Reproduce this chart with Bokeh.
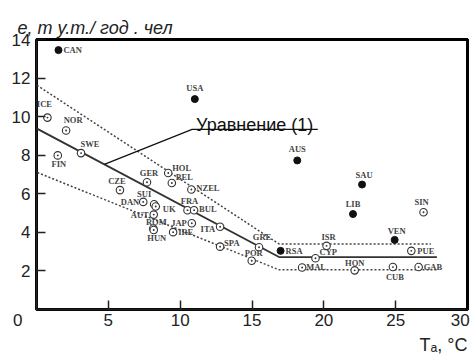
from bokeh.plotting import figure
from bokeh.models import Range1d, Label, FixedTicker, ColumnDataSource, Title, LinearAxis, Span
from bokeh.embed import file_html
from bokeh.resources import INLINE
from bokeh.core.properties import value
import numpy as np

# ---------------- data ----------------
open_names = ["ICE", "NOR", "SWE", "FIN", "CZE", "GER", "HOL", "BEL", "NZEL", "DAN",
              "SUI", "UK", "AUT", "ROM", "HUN", "JAP", "IRE", "FRA", "BUL", "ITA",
              "SPA", "GRE", "POR", "ISR", "CYP", "MAL", "HON", "CUB", "GAB", "PUE", "SIN"]
open_t = [0.76, 2.06, 3.10, 1.48, 5.81, 7.69, 9.17, 9.42, 10.78, 7.43,
          8.19, 8.30, 8.16, 8.13, 8.16, 10.81, 9.51, 10.51, 10.97, 12.78,
          12.78, 15.49, 14.98, 20.19, 19.42, 18.49, 22.15, 24.81, 26.60, 26.09, 26.94]
open_e = [9.95, 9.28, 8.11, 7.99, 6.19, 6.60, 7.08, 6.56, 6.22, 5.58,
          5.46, 5.34, 4.92, 4.20, 4.12, 4.47, 4.01, 5.15, 5.15, 4.29,
          3.26, 3.23, 2.53, 3.30, 2.66, 2.18, 2.03, 2.20, 2.20, 3.04, 5.04]

solid_names = ["CAN", "USA", "AUS", "SAU", "LIB", "VEN", "RSA"]
solid_t = [1.53, 11.02, 18.15, 22.66, 22.03, 24.93, 16.99]
solid_e = [13.45, 10.91, 7.73, 6.48, 4.95, 3.61, 3.04]

# equation (1) and its band
eq_t = [-0.2, 16.88, 27.87]
eq_e = [9.47, 2.72, 2.72]
upper_t = [-0.2, 16.88, 27.45]
upper_e = [11.74, 3.40, 3.40]
lower_t = [-0.2, 16.88, 27.87]
lower_e = [7.18, 2.06, 2.06]

x_ticks = [0, 5, 10, 15, 20, 25, 30]
y_ticks = [2, 4, 6, 8, 10, 12, 14]
y_title = "e, т у.т./ год . чел"
x_title = "Tₐ, °C"
eq_label = "Уравнение (1)"

# ---------------- label placement (style) ----------------
place = {
    "ICE": ("center", -3, -14), "NOR": ("center", 7, -11), "SWE": ("center", 9, -9),
    "FIN": ("center", 1, 9), "CZE": ("center", -3, -9), "GER": ("center", 2, -9),
    "HOL": ("left", 4, -5), "BEL": ("left", 4, -6), "NZEL": ("left", 5, -2),
    "DAN": ("right", -4, 0), "SUI": ("center", -10, -10), "UK": ("left", 7, 2),
    "AUT": ("right", -5, 0), "ROM": ("center", 3, -7), "HUN": ("center", 3, 8),
    "JAP": ("right", -5, 0), "IRE": ("left", 5, 0), "FRA": ("center", 2, -9),
    "BUL": ("left", 5, -1), "ITA": ("right", -5, 2), "SPA": ("left", 4, -4),
    "GRE": ("center", 3, -10), "POR": ("center", 2, -8), "ISR": ("center", 2, -9),
    "CYP": ("left", 4, -6), "MAL": ("left", 4, 0), "HON": ("center", 0, -7),
    "CUB": ("center", 2, 10), "GAB": ("left", 5, 0), "PUE": ("left", 6, 0),
    "SIN": ("center", -2, -10), "CAN": ("left", 5, 0), "USA": ("center", 0, -11),
    "AUS": ("center", 0, -11), "SAU": ("center", 2, -10), "LIB": ("center", 0, -10),
    "VEN": ("center", 2, -9), "RSA": ("left", 5, 0),
}

# ---------------- figure ----------------
X_END, Y_END = 30, 14
p = figure(width=474, height=361, x_range=Range1d(0, X_END), y_range=Range1d(0, Y_END),
           output_backend="svg", toolbar_location=None,
           min_border_left=36, min_border_right=7, min_border_top=39, min_border_bottom=52)
p.grid.visible = False
p.background_fill_color = "white"
p.border_fill_color = "white"
p.outline_line_color = "black"
p.outline_line_width = 3

for ax in (p.xaxis[0], p.yaxis[0]):
    ax.axis_line_color = "#222222"
    ax.axis_line_width = 1.5
    ax.major_tick_in = 9
    ax.major_tick_out = 0
    ax.major_tick_line_color = "#222222"
    ax.major_tick_line_width = 1.5
    ax.minor_tick_line_color = None
    ax.major_label_text_font = "Liberation Sans"
    ax.major_label_text_font_size = "17px"
    ax.major_label_text_color = "#222222"
p.xaxis.ticker = FixedTicker(ticks=x_ticks)
p.yaxis.ticker = FixedTicker(ticks=y_ticks)
nb = "\u00a0"
p.xaxis.major_label_overrides = {0: "0" + nb * 8, 30: "30" + nb}
p.xaxis.major_label_standoff = 1
p.yaxis.major_label_standoff = 6

# frame lines on top and right
for side, tk in (("above", 15), ("right", 7)):
    fa = LinearAxis(ticker=FixedTicker(ticks=[tk]), axis_line_color="black", axis_line_width=3,
                    major_tick_line_color=None, minor_tick_line_color=None,
                    major_tick_in=0, major_tick_out=0,
                    major_label_overrides={tk: ""}, major_label_text_font_size="1px",
                    major_label_standoff=0)
    p.add_layout(fa, side)
p.add_layout(Span(location=Y_END, dimension="width", line_color="black", line_width=3))
p.add_layout(Span(location=X_END, dimension="height", line_color="black", line_width=3))

# titles
p.add_layout(Title(text=y_title, align="left", offset=-19, text_font="Liberation Sans",
                   text_font_size="18px", text_font_style="italic", text_color="#222222",
                   standoff=4), "above")
p.add_layout(Title(text=x_title, align="right", offset=0, text_font="Liberation Sans",
                   text_font_size="18px", text_font_style="normal", text_color="#222222",
                   standoff=0), "below")

# lines
p.line(upper_t, upper_e, line_color="#444444", line_width=1.5, line_dash="2 2")
p.line(lower_t, lower_e, line_color="#444444", line_width=1.5, line_dash="2 2")
p.line(eq_t, eq_e, line_color="#333333", line_width=1.8)

# callout for equation
call_t = 4.72
call_e = float(np.interp(call_t, eq_t, eq_e))
ul_t0, ul_t1, ul_e = 10.83, 19.58, 9.34
p.line([call_t, ul_t0, ul_t1], [call_e, ul_e, ul_e], line_color="#111111", line_width=1.3)
p.add_layout(Label(x=11.11, y=9.55, text=eq_label, text_font="Liberation Sans",
                   text_font_size="18px", text_color="#111111", text_baseline="alphabetic"))

# markers
p.scatter(open_t, open_e, marker="circle_dot", size=7.5, line_color="#333333",
          fill_color="white", line_width=1.1)
p.scatter(solid_t, solid_e, marker="circle", size=7, line_color="#111111",
          fill_color="#111111")

# country labels
names = open_names + solid_names
tt = open_t + solid_t
ee = open_e + solid_e
for align in ("left", "center", "right"):
    sel = [i for i, n in enumerate(names) if place[n][0] == align]
    src = ColumnDataSource(dict(
        x=[tt[i] for i in sel], y=[ee[i] for i in sel], t=[names[i] for i in sel],
        ox=[place[names[i]][1] for i in sel], oy=[place[names[i]][2] for i in sel]))
    p.text("x", "y", text="t", x_offset="ox", y_offset="oy", source=src,
           text_font=value("Liberation Serif"), text_font_style="bold",
           text_font_size="8.5px", text_color="#444444",
           text_align=align, text_baseline="middle")

open("out.html", "w").write(file_html(p, INLINE))
